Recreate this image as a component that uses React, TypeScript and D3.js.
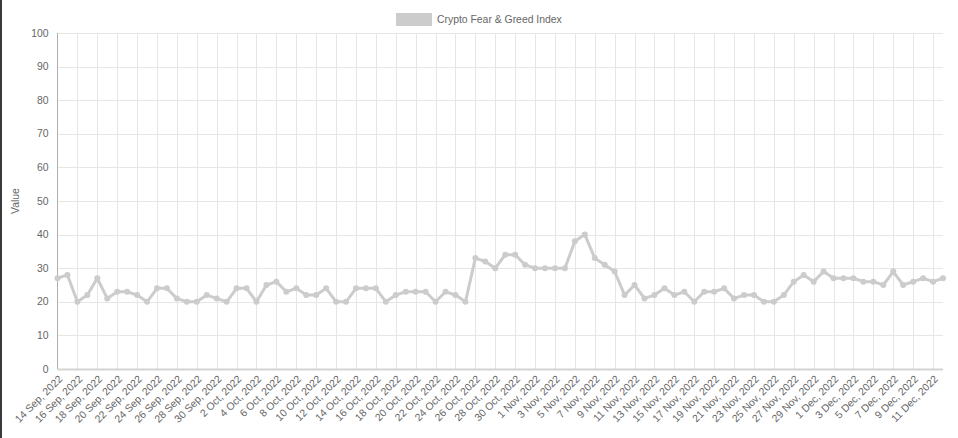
import React, { useEffect, useRef } from 'react'
import * as d3 from 'd3'

// ================================================================== //
// Crypto Fear & Greed Index, daily values 14 Sep 2022 - 12 Dec 2022

const startDate = new Date(2022, 8, 14)
const endDate = new Date(2022, 11, 13) // exclusive

const fearGreedValues: number[] = [
    27, 28, 20, 22, 27, 21, 23, 23, 22, 20,
    24, 24, 21, 20, 20, 22, 21, 20, 24, 24,
    20, 25, 26, 23, 24, 22, 22, 24, 20, 20,
    24, 24, 24, 20, 22, 23, 23, 23, 20, 23,
    22, 20, 33, 32, 30, 34, 34, 31, 30, 30,
    30, 30, 38, 40, 33, 31, 29, 22, 25, 21,
    22, 24, 22, 23, 20, 23, 23, 24, 21, 22,
    22, 20, 20, 22, 26, 28, 26, 29, 27, 27,
    27, 26, 26, 25, 29, 25, 26, 27, 26, 27,
]

const yTicks = [0, 10, 20, 30, 40, 50, 60, 70, 80, 90, 100]
const seriesLabel = 'Crypto Fear & Greed Index'
const yAxisTitle = 'Value'

const W = 958
const H = 438

export default function App() {
    const ref = useRef<SVGSVGElement>(null)

    useEffect(() => {
        const svg = d3.select(ref.current)
        svg.selectAll('*').remove()

        const dates = d3.timeDay.range(startDate, endDate)
        const fmt = d3.timeFormat('%-d %b, %Y')
        const labels = dates.map(d => fmt(d))
        const data = labels.map((l, i) => ({ label: l, value: fearGreedValues[i] }))

        const margin = { top: 33, right: 15, bottom: 69, left: 57.5 }
        const color = '#cccccc'
        const textColor = '#666'
        const font = '"Liberation Sans", Arial, Helvetica, sans-serif'
        const fontSize = 10.4

        const x = d3.scalePoint<string>()
            .domain(labels)
            .range([margin.left, W - margin.right])

        const y = d3.scaleLinear()
            .domain([0, 100])
            .range([H - margin.bottom, margin.top])

        const tickLabels = labels.filter((_, i) => i % 2 === 0)

        // left edge strip from the screenshot
        svg.append('rect')
            .attr('x', 0).attr('y', 0)
            .attr('width', 2).attr('height', H)
            .attr('fill', '#3a3a3a')

        // grid
        const grid = svg.append('g')
        grid.selectAll('.hgrid')
            .data(yTicks.filter(t => t > 0))
            .enter()
            .append('line')
            .attr('x1', margin.left)
            .attr('x2', W - margin.right)
            .attr('y1', d => Math.round(y(d)) + 0.5)
            .attr('y2', d => Math.round(y(d)) + 0.5)
            .attr('stroke', '#e6e6e6')
        grid.selectAll('.vgrid')
            .data(tickLabels.slice(1))
            .enter()
            .append('line')
            .attr('x1', d => Math.round(x(d)) + 0.5)
            .attr('x2', d => Math.round(x(d)) + 0.5)
            .attr('y1', margin.top)
            .attr('y2', H - margin.bottom)
            .attr('stroke', '#e6e6e6')

        // axis lines
        svg.append('line')
            .attr('x1', margin.left).attr('x2', W - margin.right)
            .attr('y1', y(0) + 0.5).attr('y2', y(0) + 0.5)
            .attr('stroke', '#d4d4d4')
            .attr('stroke-width', 2)
        svg.append('line')
            .attr('x1', margin.left).attr('x2', margin.left)
            .attr('y1', margin.top).attr('y2', y(0))
            .attr('stroke', '#b0b0b0')

        // y tick labels
        svg.append('g')
            .selectAll('text')
            .data(yTicks)
            .enter()
            .append('text')
            .attr('x', margin.left - 9)
            .attr('y', d => y(d))
            .attr('dy', '0.35em')
            .attr('text-anchor', 'end')
            .attr('font-size', fontSize)
            .attr('font-family', font)
            .attr('fill', textColor)
            .text(d => d)

        // y axis title
        svg.append('text')
            .attr('transform', `translate(19, ${(margin.top + y(0)) / 2}) rotate(-90)`)
            .attr('text-anchor', 'middle')
            .attr('font-size', fontSize)
            .attr('font-family', font)
            .attr('fill', textColor)
            .text(yAxisTitle)

        // x tick labels, rotated
        svg.append('g')
            .selectAll('text')
            .data(tickLabels)
            .enter()
            .append('text')
            .attr('transform', d => `translate(${x(d) + 3}, ${y(0) + 8}) rotate(-45)`)
            .attr('text-anchor', 'end')
            .attr('dy', '0.35em')
            .attr('font-size', fontSize)
            .attr('font-family', font)
            .attr('fill', textColor)
            .text(d => d)

        // line + points
        const line = d3.line<{ label: string, value: number }>()
            .x(d => x(d.label))
            .y(d => y(d.value))
        svg.append('path')
            .datum(data)
            .attr('d', line)
            .attr('fill', 'none')
            .attr('stroke', color)
            .attr('stroke-width', 3)
            .attr('stroke-linejoin', 'round')
        svg.append('g')
            .selectAll('circle')
            .data(data)
            .enter()
            .append('circle')
            .attr('cx', d => x(d.label))
            .attr('cy', d => y(d.value))
            .attr('r', 3)
            .attr('fill', color)

        // legend
        const legend = svg.append('g')
        legend.append('rect')
            .attr('x', 396).attr('y', 13)
            .attr('width', 36).attr('height', 13)
            .attr('fill', color)
        legend.append('text')
            .attr('x', 437).attr('y', 19.5)
            .attr('dy', '0.35em')
            .attr('font-size', fontSize)
            .attr('font-family', font)
            .attr('fill', textColor)
            .text(seriesLabel)
    }, [])

    return (
        <div style={{ position: 'fixed', left: 0, top: 0, width: W, height: H, background: '#fff' }}>
            <svg ref={ref} width={W} height={H} />
        </div>
    )
}
